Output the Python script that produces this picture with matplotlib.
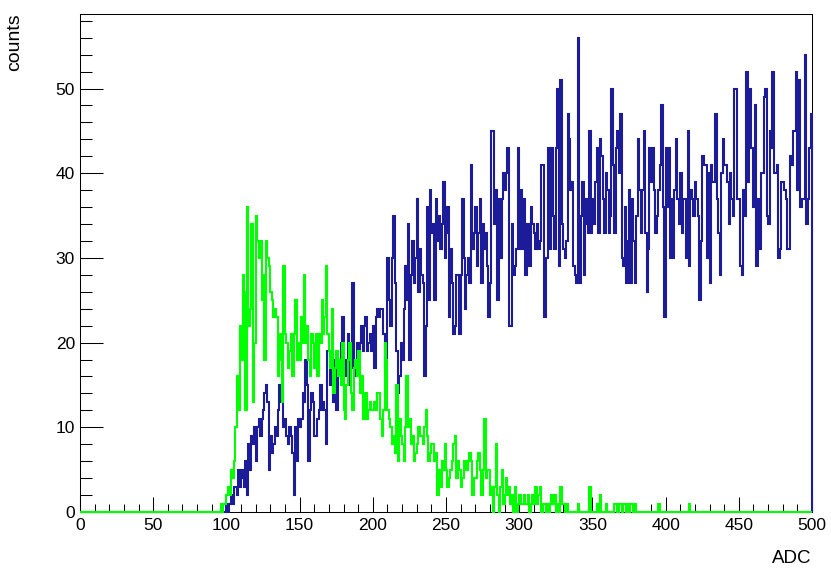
"""
ADC spectra, two overlaid 1-ADC-wide histograms drawn in ROOT style
"""

import matplotlib
matplotlib.use("Agg")
import matplotlib.pyplot as plt
from matplotlib.ticker import MultipleLocator
import numpy as np

plt.rcParams['font.family'] = ['Liberation Sans', 'DejaVu Sans']

# binning: 500 bins of width 1 between 0 and 500
n_bins = 500
x_min, x_max = 0, 500

# green histogram, counts from bin 90 onwards (zero elsewhere)
green_start = 90
green_vals = [
    0, 0, 0, 0, 0, 0, 1, 0, 1, 1,
    2, 3, 2, 5, 4, 6, 10, 16, 12, 22,
    18, 28, 26, 12, 36, 22, 24, 34, 13, 20,
    35, 32, 30, 32, 25, 28, 18, 32, 30, 29,
    26, 25, 23, 24, 23, 16, 21, 18, 13, 29,
    21, 20, 17, 19, 21, 16, 21, 25, 18, 20,
    18, 23, 20, 28, 20, 22, 18, 16, 21, 20,
    17, 21, 16, 21, 20, 25, 21, 23, 29, 21,
    19, 17, 24, 14, 17, 19, 16, 18, 15, 20,
    12, 11, 15, 18, 20, 14, 12, 17, 18, 16,
    19, 14, 16, 11, 11, 14, 11, 12, 13, 12,
    12, 13, 12, 14, 14, 11, 9, 12, 20, 18,
    12, 11, 10, 8, 9, 7, 15, 6, 11, 9,
    8, 6, 10, 16, 10, 11, 8, 9, 6, 7,
    8, 10, 9, 9, 8, 10, 12, 9, 6, 7,
    8, 8, 6, 7, 2, 5, 3, 6, 5, 8,
    5, 3, 4, 5, 6, 8, 9, 4, 6, 5,
    3, 4, 6, 6, 5, 6, 7, 6, 2, 4,
    4, 6, 7, 5, 2, 5, 11, 4, 5, 5,
    2, 3, 0, 3, 8, 2, 0, 3, 5, 1,
    2, 4, 2, 3, 1, 2, 0, 3, 0, 1,
    2, 1, 1, 2, 1, 1, 2, 0, 1, 2,
    1, 3, 1, 2, 3, 0, 1, 1, 0, 1,
    0, 1, 2, 1, 2, 0, 1, 0, 3, 1,
    1, 0, 1, 0, 0, 0, 0, 0, 0, 0,
    1, 0, 0, 0, 0, 0, 0, 0, 3, 0,
    0, 0, 0, 1, 0, 2, 0, 0, 0, 1,
    0, 0, 0, 0, 0, 1, 1, 0, 1, 1,
    0, 1, 1, 0, 1, 0, 1, 1, 0, 1,
    0, 0, 0, 0, 0, 0, 0, 0, 0, 0,
    0, 0, 0, 0, 0, 1, 0, 0, 0, 0,
    0, 0, 0, 0, 0, 0, 0, 0, 0, 0,
    0, 0, 0, 0, 0, 0, 1, 0, 0, 0,
]

# blue histogram, counts from bin 100 up to 499
blue_start = 100
blue_vals = [
    1, 0, 1, 2, 1, 3, 3, 2, 5, 3,
    5, 4, 3, 6, 2, 8, 5, 9, 8, 10,
    6, 10, 11, 9, 11, 12, 14, 15, 13, 5,
    9, 7, 8, 10, 9, 12, 15, 13, 14, 10,
    11, 9, 8, 10, 9, 7, 2, 10, 6, 11,
    10, 11, 14, 13, 18, 15, 6, 12, 14, 13,
    9, 9, 11, 12, 15, 12, 13, 12, 8, 19,
    19, 15, 19, 13, 18, 12, 18, 16, 20, 23,
    17, 18, 16, 21, 15, 17, 27, 16, 18, 20,
    18, 20, 22, 19, 22, 23, 19, 20, 21, 19,
    22, 17, 23, 24, 23, 24, 24, 21, 17, 18,
    30, 25, 22, 30, 35, 27, 19, 14, 16, 20,
    18, 24, 29, 25, 34, 18, 28, 32, 27, 30,
    37, 26, 31, 28, 27, 16, 22, 36, 25, 38,
    33, 34, 25, 37, 32, 35, 31, 34, 39, 30,
    33, 36, 23, 31, 27, 21, 22, 28, 28, 21,
    28, 37, 30, 24, 28, 30, 27, 41, 31, 33,
    36, 29, 33, 37, 27, 34, 31, 33, 29, 23,
    27, 45, 45, 34, 38, 25, 37, 30, 37, 40,
    38, 40, 43, 22, 22, 34, 28, 29, 31, 43,
    31, 38, 31, 37, 28, 34, 34, 29, 36, 34,
    33, 31, 34, 31, 32, 41, 41, 23, 30, 30,
    43, 31, 43, 35, 31, 43, 50, 29, 51, 34,
    31, 30, 32, 47, 44, 38, 39, 29, 28, 27,
    56, 27, 35, 39, 28, 37, 34, 33, 45, 33,
    37, 34, 39, 43, 33, 44, 42, 37, 33, 40,
    38, 33, 35, 50, 41, 33, 43, 45, 40, 47,
    30, 29, 36, 27, 32, 38, 27, 37, 32, 27,
    35, 44, 38, 33, 38, 45, 33, 26, 31, 43,
    39, 43, 38, 33, 35, 38, 41, 48, 36, 23,
    43, 36, 43, 30, 37, 30, 38, 44, 37, 34,
    40, 33, 37, 37, 30, 45, 29, 38, 37, 35,
    39, 37, 35, 25, 32, 42, 41, 41, 30, 40,
    27, 41, 39, 39, 47, 37, 33, 28, 40, 44,
    41, 41, 39, 34, 40, 37, 35, 50, 50, 37,
    37, 29, 28, 38, 35, 52, 39, 50, 43, 43,
    36, 48, 29, 37, 31, 40, 40, 49, 50, 35,
    34, 45, 43, 52, 40, 40, 41, 30, 31, 39,
    39, 38, 37, 31, 31, 42, 41, 45, 45, 52,
    38, 51, 36, 37, 37, 54, 34, 37, 43, 47,
]

edges = np.linspace(x_min, x_max, n_bins + 1)

green = np.zeros(n_bins)
green[green_start:green_start + len(green_vals)] = green_vals
blue = np.zeros(n_bins)
blue[blue_start:blue_start + len(blue_vals)] = blue_vals

# ROOT leaves 5% headroom above the highest bin
y_top = max(blue.max(), green.max()) * 1.05

fig = plt.figure(figsize=(8.31, 5.70), dpi=100)
ax = fig.add_axes([80 / 831, 58 / 570, 732 / 831, 498 / 570])

ax.stairs(blue, edges, color="#1c1c9a", lw=1.5, zorder=3, clip_on=False)
ax.stairs(green, edges, color="#00ff00", lw=1.5, zorder=4, clip_on=False)

ax.set_xlim(x_min, x_max)
ax.set_ylim(0, y_top)

ax.xaxis.set_major_locator(MultipleLocator(50))
ax.xaxis.set_minor_locator(MultipleLocator(10))
ax.yaxis.set_major_locator(MultipleLocator(10))
ax.yaxis.set_minor_locator(MultipleLocator(2))

ax.tick_params(axis="both", which="both", direction="in", top=False, right=False,
               width=0.75, color="black", labelsize=12.5)
ax.tick_params(axis="x", which="major", length=10.8, pad=4.3)
ax.tick_params(axis="x", which="minor", length=5.5)
ax.tick_params(axis="y", which="major", length=16.5, pad=3.6)
ax.tick_params(axis="y", which="minor", length=8.6)

for sp in ax.spines.values():
    sp.set_linewidth(0.75)
    sp.set_zorder(2.5)

fig.text(811 / 831, 1 - 563 / 570, "ADC", ha="right", va="baseline", fontsize=13.5)
fig.text(15 / 831, 1 - 13 / 570, "counts", ha="center", va="top", rotation=90, fontsize=14)

fig.savefig("out.png", dpi=100)
